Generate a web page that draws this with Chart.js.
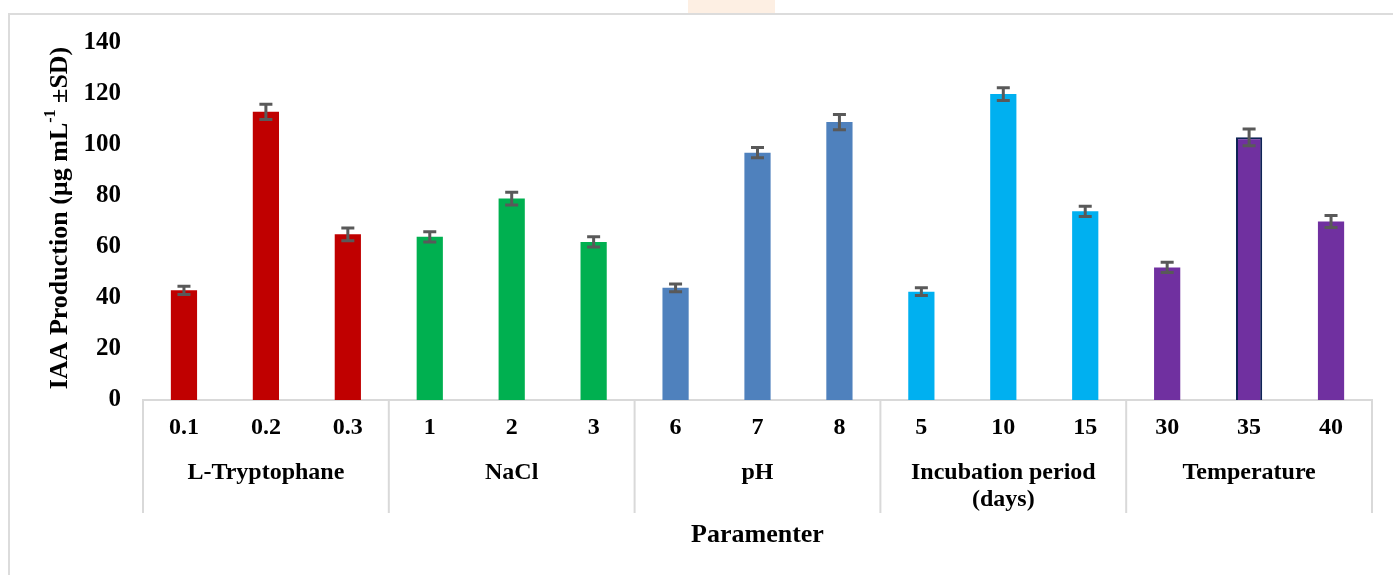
<!DOCTYPE html>
<html>
<head>
<meta charset="utf-8">
<title>IAA Production</title>
<script src="https://cdn.jsdelivr.net/npm/chart.js@4"></script>
<style>
  html, body { margin: 0; padding: 0; background: #fff; overflow: hidden; }
  #frame { position: absolute; left: 8px; top: 13px; width: 1400px; height: 600px; border: 2px solid #dcdcdc; box-sizing: border-box; }
  #tab { position: absolute; left: 688px; top: 0; width: 87px; height: 13px; background: #fdefe3; }
  #wrap { position: absolute; left: 0; top: 0; width: 1393px; height: 575px; }
</style>
</head>
<body>
<div id="tab"></div>
<div id="frame"></div>
<div id="wrap"><canvas id="iaaChart" width="1393" height="575"></canvas></div>
<script>
// Chart data
const groups = ["L-Tryptophane", "NaCl", "pH", "Incubation period|(days)", "Temperature"];
const levels = ["0.1", "0.2", "0.3", "1", "2", "3", "6", "7", "8", "5", "10", "15", "30", "35", "40"];
const iaaValues = [43, 113, 65, 64, 79, 62, 44, 97, 109, 42.5, 120, 74, 52, 103, 70];
const iaaErrors = [1.6, 3, 2.5, 2, 2.5, 2, 1.5, 2, 3, 1.5, 2.5, 2, 2, 3.3, 2.4];
const groupColors = ["#C00000", "#00B050", "#4F81BD", "#00B0F0", "#7030A0"];
const yTicks = [0, 20, 40, 60, 80, 100, 120, 140];

const perGroup = levels.length / groups.length;
const FONT = "'Liberation Serif', 'Times New Roman', serif";

// Error bars
const errorBars = {
  id: "errorBars",
  afterDatasetsDraw(chart) {
    const meta = chart.getDatasetMeta(0);
    const y = chart.scales.y;
    const c = chart.ctx;
    c.save();
    c.strokeStyle = "#595959";
    c.lineWidth = 3;
    meta.data.forEach((bar, i) => {
      const top = y.getPixelForValue(iaaValues[i] + iaaErrors[i]);
      const bot = y.getPixelForValue(iaaValues[i] - iaaErrors[i]);
      c.beginPath();
      c.moveTo(bar.x, top); c.lineTo(bar.x, bot);
      c.moveTo(bar.x - 6.5, top); c.lineTo(bar.x + 6.5, top);
      c.moveTo(bar.x - 6.5, bot); c.lineTo(bar.x + 6.5, bot);
      c.stroke();
    });
    c.restore();
  }
};

// Y title with a real superscript
const yTitle = {
  id: "yTitle",
  afterDraw(chart) {
    const c = chart.ctx;
    const big = "bold 26px " + FONT;
    const small = "bold 16px " + FONT;
    const parts = [
      { t: "IAA Production (\u00b5g mL", f: big, dy: 0 },
      { t: "-1", f: small, dy: -9 },
      { t: " \u00b1SD)", f: big, dy: 0 },
    ];
    c.save();
    let total = 0;
    parts.forEach((p) => { c.font = p.f; p.w = c.measureText(p.t).width; total += p.w; });
    c.translate(60, 218);
    c.rotate(-Math.PI / 2);
    c.fillStyle = "#000";
    c.textBaseline = "middle";
    c.textAlign = "left";
    let x = -total / 2;
    parts.forEach((p) => { c.font = p.f; c.fillText(p.t, x, p.dy); x += p.w; });
    c.restore();
  }
};

// Group labels, separators and axis title under the x axis
const groupAxis = {
  id: "groupAxis",
  afterDraw(chart) {
    const x = chart.scales.x;
    const area = chart.chartArea;
    const c = chart.ctx;
    const base = area.bottom;
    c.save();
    c.strokeStyle = "#d9d9d9";
    c.lineWidth = 2;
    const edges = [];
    for (let g = 0; g <= groups.length; g++) {
      let px;
      if (g === 0) px = area.left;
      else if (g === groups.length) px = area.right;
      else px = (x.getPixelForValue(g * perGroup - 1) + x.getPixelForValue(g * perGroup)) / 2;
      edges.push(px);
      c.beginPath();
      c.moveTo(px, base);
      c.lineTo(px, base + 113);
      c.stroke();
    }
    c.fillStyle = "#000";
    c.font = "bold 24px " + FONT;
    c.textAlign = "center";
    c.textBaseline = "middle";
    groups.forEach((g, i) => {
      const cx = (edges[i] + edges[i + 1]) / 2;
      g.split("|").forEach((line, j) => c.fillText(line, cx, base + 73 + j * 27));
    });
    c.font = "bold 26px " + FONT;
    c.fillText("Paramenter", (area.left + area.right) / 2, base + 135);
    c.restore();
  }
};

const ctx = document.getElementById("iaaChart").getContext("2d");
const iaaChart = new Chart(ctx, {
  type: "bar",
  data: {
    labels: levels,
    datasets: [
      {
        label: "IAA",
        data: iaaValues,
        backgroundColor: levels.map((_, i) => groupColors[Math.floor(i / perGroup)]),
        borderColor: levels.map((l, i) => (i === 13 ? "#0E2356" : "rgba(0,0,0,0)")),
        borderWidth: levels.map((l, i) => (i === 13 ? 2 : 0)),
        barPercentage: 0.32,
        categoryPercentage: 1,
      },
    ],
  },
  options: {
    responsive: false,
    animation: false,
    devicePixelRatio: 1,
    layout: { padding: { top: 43, right: 21, left: 0, bottom: 0 } },
    scales: {
      y: {
        min: 0,
        max: 140,
        afterFit: (s) => { s.width = 143; },
        afterBuildTicks: (s) => { s.ticks = yTicks.map((v) => ({ value: v })); },
        grid: { display: false, drawTicks: false },
        border: { display: false },
        ticks: {
          color: "#000",
          padding: 22,
          font: { family: FONT, size: 25, weight: "bold" },
        },
      },
      x: {
        afterFit: (s) => { s.height = 175; },
        grid: { display: false, drawTicks: false },
        border: { display: true, color: "#d9d9d9", width: 2 },
        ticks: {
          color: "#000",
          padding: 13,
          maxRotation: 0,
          autoSkip: false,
          font: { family: FONT, size: 24, weight: "bold" },
        },
      },
    },
    plugins: {
      legend: { display: false },
      tooltip: { enabled: false },
    },
  },
  plugins: [errorBars, groupAxis, yTitle],
});
</script>
</body>
</html>
